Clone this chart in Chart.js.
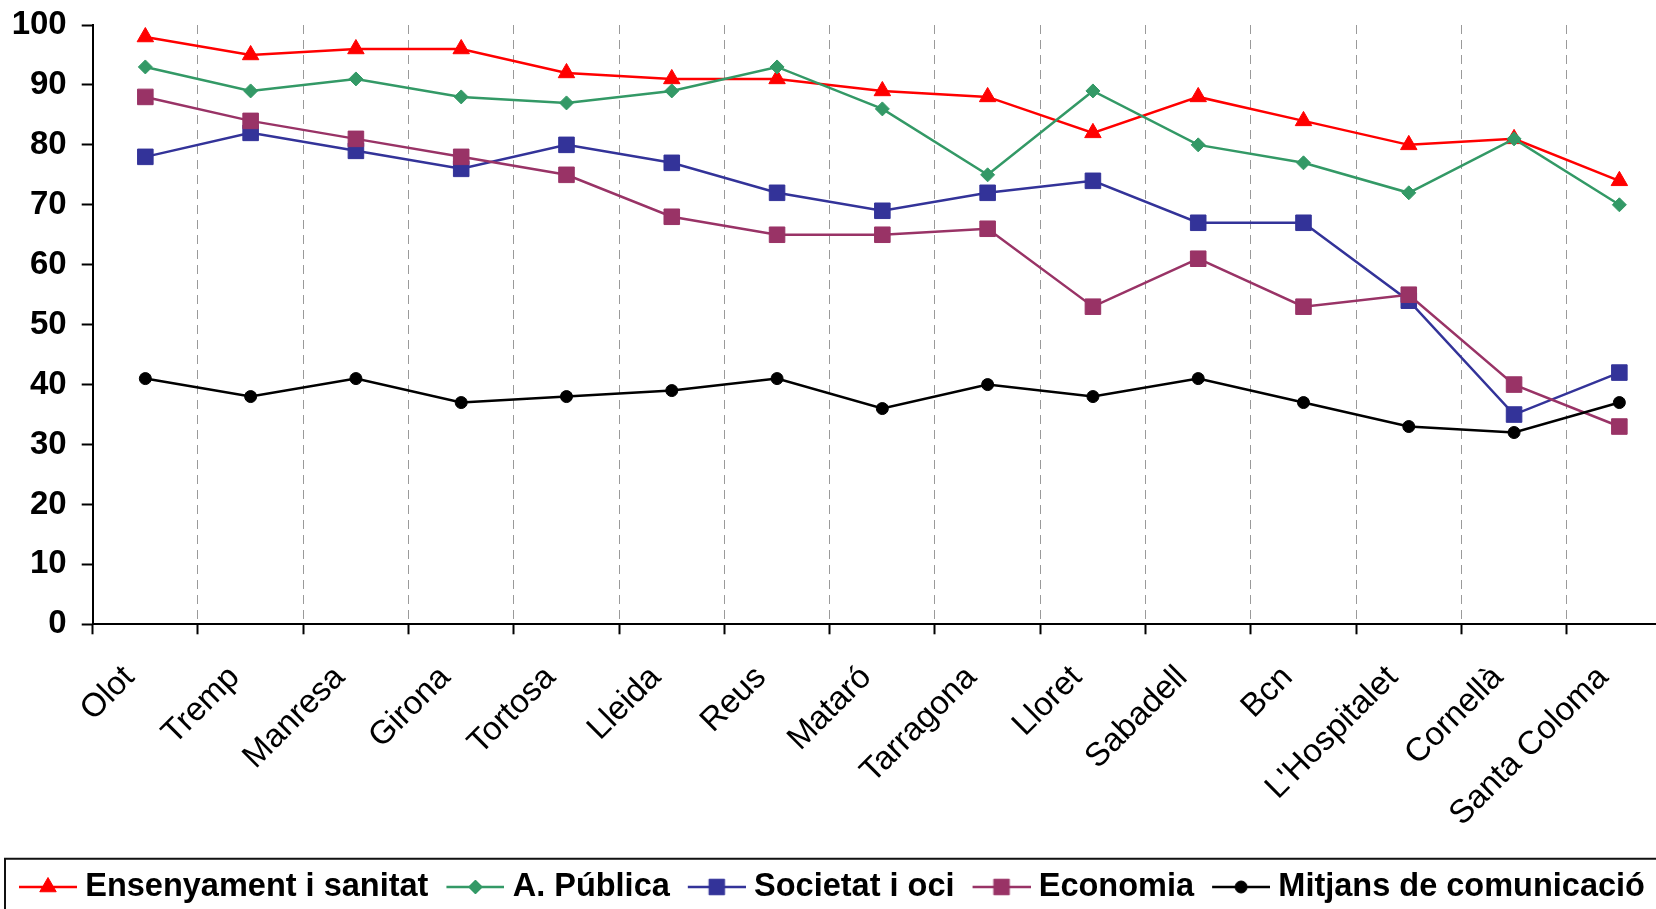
<!DOCTYPE html>
<html>
<head>
<meta charset="utf-8">
<script src="https://cdn.jsdelivr.net/npm/chart.js@4.4.1/dist/chart.umd.min.js"></script>
<style>
  html, body { margin: 0; padding: 0; background: #fff; overflow: hidden; width: 1656px; height: 909px; }
  #wrap { position: absolute; left: 0; top: 0; width: 1720px; height: 930px; }
  canvas { display: block; }
</style>
</head>
<body>
<div id="wrap"><canvas id="c" width="1720" height="930"></canvas></div>
<script>
const categories = ["Olot", "Tremp", "Manresa", "Girona", "Tortosa", "Lleida", "Reus", "Mataró", "Tarragona", "Lloret", "Sabadell", "Bcn", "L'Hospitalet", "Cornellà", "Santa Coloma"];
const ensenyament = [98, 95, 96, 96, 92, 91, 91, 89, 88, 82, 88, 84, 80, 81, 74];
const aPublica    = [93, 89, 91, 88, 87, 89, 93, 86, 75, 89, 80, 77, 72, 81, 70];
const societat    = [78, 82, 79, 76, 80, 77, 72, 69, 72, 74, 67, 67, 54, 35, 42];
const economia    = [88, 84, 81, 78, 75, 68, 65, 65, 66, 53, 61, 53, 55, 40, 33];
const mitjans     = [41, 38, 41, 37, 38, 39, 41, 36, 40, 38, 41, 37, 33, 32, 37];
const yTicks      = [0, 10, 20, 30, 40, 50, 60, 70, 80, 90, 100];

const FONT = "'Liberation Sans', Arial, sans-serif";
Chart.defaults.font.family = FONT;
Chart.defaults.color = '#000';

const seriesDefs = [
  { label: 'Ensenyament i sanitat', data: ensenyament, color: '#FF0000', style: 'triangle', r: 9.5 },
  { label: 'A. Pública', data: aPublica, color: '#339966', style: 'rectRot', r: 7 },
  { label: 'Societat i oci', data: societat, color: '#333399', style: 'rect', r: 11 },
  { label: 'Economia', data: economia, color: '#993366', style: 'rect', r: 11 },
  { label: 'Mitjans de comunicació', data: mitjans, color: '#000000', style: 'circle', r: 6 }
];

function makeIcon(def) {
  const cv = document.createElement('canvas');
  cv.width = 66; cv.height = 26;
  const ctx = cv.getContext('2d');
  ctx.strokeStyle = def.color;
  ctx.lineWidth = 2.5;
  ctx.beginPath(); ctx.moveTo(8, 13); ctx.lineTo(66, 13); ctx.stroke();
  ctx.fillStyle = def.color;
  ctx.lineWidth = 1;
  Chart.helpers.drawPoint(ctx, { pointStyle: def.style, radius: def.r, rotation: 0, borderWidth: 1 }, 37, 13);
  return cv;
}
const icons = seriesDefs.map(makeIcon);

const legendBorder = {
  id: 'legendBorder',
  afterDraw(chart) {
    const lg = chart.legend;
    const ctx = chart.ctx;
    ctx.save();
    ctx.strokeStyle = '#111';
    ctx.lineWidth = 2;
    ctx.strokeRect(lg.left + 4, lg.top + 6, chart.width - 10, 200);
    ctx.restore();
  }
};

new Chart(document.getElementById('c'), {
  type: 'line',
  data: {
    labels: categories,
    datasets: seriesDefs.map((d, i) => ({
      label: d.label,
      data: d.data,
      borderColor: d.color,
      backgroundColor: d.color,
      pointBackgroundColor: d.color,
      pointBorderColor: d.color,
      pointStyle: d.style,
      pointRadius: d.r,
      pointBorderWidth: 1,
      borderWidth: 2.5,
      tension: 0,
      fill: false,
      order: 10 - i
    }))
  },
  options: {
    responsive: false,
    animation: false,
    events: [],
    layout: { padding: { top: 25, left: 1, right: 48, bottom: 16.75 } },
    plugins: {
      tooltip: { enabled: false },
      legend: {
        position: 'bottom',
        align: 'start',
        labels: {
          usePointStyle: true,
          pointStyleWidth: 50,
          padding: 18,
          color: '#000',
          font: { family: FONT, size: 32.5, weight: 'bold' },
          generateLabels: (chart) => chart.data.datasets.map((ds, i) => ({
            text: ds.label,
            fillStyle: ds.borderColor,
            strokeStyle: ds.borderColor,
            fontColor: '#000',
            lineWidth: 0,
            pointStyle: icons[i],
            hidden: false,
            datasetIndex: i
          }))
        }
      }
    },
    scales: {
      x: {
        type: 'category',
        offset: true,
        afterFit: (s) => { s.height = 228.45; s.paddingLeft = 0; s.paddingRight = 0; },
        grid: {
          offset: true,
          color: '#9a9a9a',
          lineWidth: 1,
          drawOnChartArea: true,
          drawTicks: true,
          tickLength: 10,
          tickColor: '#000',
          tickWidth: 2
        },
        border: { display: true, color: '#000', width: 2, dash: [9, 6] },
        ticks: {
          autoSkip: false,
          minRotation: 45,
          maxRotation: 45,
          padding: 24,
          labelOffset: -16,
          color: '#000',
          font: { family: FONT, size: 33, weight: 'normal' }
        }
      },
      y: {
        min: 0,
        max: 100,
        afterFit: (s) => { s.width = 91.7; s.paddingTop = 0; s.paddingBottom = 0; },
        afterBuildTicks: (s) => { s.ticks = yTicks.map(v => ({ value: v })); },
        grid: {
          drawOnChartArea: false,
          drawTicks: true,
          tickLength: 11,
          color: '#000',
          tickColor: '#000',
          tickWidth: 2
        },
        border: { display: true, color: '#000', width: 2 },
        ticks: {
          padding: 15,
          color: '#000',
          font: { family: FONT, size: 33, weight: 'bold' }
        }
      }
    }
  },
  plugins: [legendBorder]
});
</script>
</body>
</html>
